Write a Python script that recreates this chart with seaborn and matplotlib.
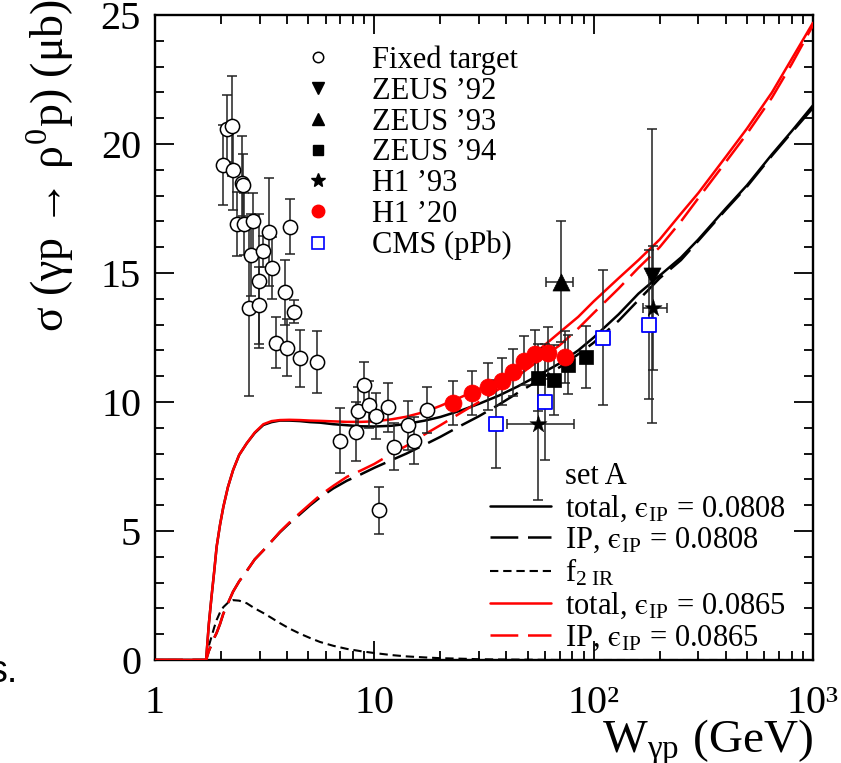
"""Rho photoproduction cross section vs W, model curves and data."""

import matplotlib

matplotlib.use("Agg")

import matplotlib.pyplot as plt
import seaborn as sns
from matplotlib.lines import Line2D
from matplotlib.ticker import LogLocator, MultipleLocator, NullFormatter

# model curves (W in GeV, sigma in microbarn)
W_CURVE = [1.0, 1.69, 1.71, 1.76, 1.81, 1.86, 1.91, 1.98, 2.05, 2.15, 2.27, 2.42,
           2.62, 2.85, 3.12, 3.4, 3.71, 4.1, 4.58, 5.1, 5.65, 6.5, 7.5, 8.7, 10,
           12, 14, 17, 20, 25, 30, 37, 45, 55, 70, 85, 100, 130, 160, 200, 250,
           300, 400, 500, 650, 800, 1000]
TOTAL_A = [0, 0, 0, 1.4, 2.45, 3.4, 4.39, 5.25, 5.94, 6.7, 7.36, 7.95,
           8.4, 8.8, 9.11, 9.22, 9.28, 9.28, 9.26, 9.22, 9.2, 9.14, 9.1, 9.06, 9.05,
           9.08, 9.15, 9.28, 9.42, 9.68, 9.93, 10.25, 10.6, 11.0, 11.5, 12.0, 12.5, 13.4, 14.2, 14.9, 15.6,
           16.3, 17.5, 18.4, 19.6, 20.5, 21.5]
POMERON_A = [0, 0, 0, 0.35, 0.6, 0.85, 1.05, 1.4, 1.8, 2.2, 2.65, 3.05,
             3.45, 3.9, 4.25, 4.6, 4.95, 5.3, 5.65, 6.0, 6.3, 6.65, 6.95, 7.2, 7.45,
             7.75, 8.0, 8.35, 8.65, 9.1, 9.45, 9.9, 10.35, 10.8, 11.35, 11.85, 12.3, 13.15, 13.95, 14.8, 15.5,
             16.25, 17.45, 18.35, 19.55, 20.45, 21.4]
REGGEON = [0, 0, 0, 0.55, 0.9, 1.25, 1.55, 1.85, 2.05, 2.22, 2.32, 2.3,
           2.2, 2.0, 1.82, 1.63, 1.43, 1.22, 1.02, 0.85, 0.7, 0.55, 0.43, 0.34, 0.27,
           0.19, 0.14, 0.1, 0.07, 0.05, 0.03, 0.02, 0.015, 0.01, 0, 0, 0, 0, 0, 0, 0,
           0, 0, 0, 0, 0, 0]
TOTAL_B = [0, 0, 0, 1.4, 2.45, 3.4, 4.39, 5.25, 5.94, 6.7, 7.36, 7.95,
           8.4, 8.82, 9.14, 9.26, 9.3, 9.31, 9.3, 9.28, 9.27, 9.25, 9.23, 9.23, 9.25,
           9.33, 9.43, 9.62, 9.85, 10.2, 10.5, 10.9, 11.35, 11.95, 12.7, 13.3, 13.9, 14.8, 15.5, 16.3, 17.3,
           18.1, 19.5, 20.6, 22.0, 23.3, 24.7]
POMERON_B = [0, 0, 0, 0.35, 0.6, 0.85, 1.05, 1.4, 1.8, 2.2, 2.65, 3.05,
             3.45, 3.9, 4.25, 4.6, 4.97, 5.33, 5.7, 6.05, 6.38, 6.75, 7.1, 7.35, 7.6,
             8.0, 8.3, 8.75, 9.1, 9.6, 10.0, 10.5, 11.0, 11.55, 12.2, 12.85, 13.45, 14.4, 15.2, 16.0, 17.0,
             17.9, 19.3, 20.4, 21.8, 23.1, 24.6]

# fixed target data
FT_W = [2.05, 2.14, 2.24, 2.27, 2.49, 2.51, 2.36, 2.55, 2.81, 2.73, 2.69, 2.99,
        2.99, 3.12, 3.30, 3.40, 3.90, 4.13, 4.30, 3.56, 4.01, 4.58, 5.46,
        6.97, 8.25, 8.45, 9.0, 9.48, 10.2, 11.6, 12.3, 14.3, 15.1, 17.3, 10.5]
FT_S = [19.2, 20.6, 20.7, 19.0, 18.5, 18.4, 16.9, 16.9, 17.0, 15.7, 13.65, 14.7,
        13.75, 15.85, 16.6, 15.2, 14.25, 16.8, 13.5, 12.3, 12.1, 11.7, 11.55,
        8.5, 8.85, 9.65, 10.65, 9.9, 9.45, 9.8, 8.27, 9.1, 8.5, 9.7, 5.8]
FT_ERR = [1.55, 1.3, 1.95, 1.55, 1.83, 1.2, 1.23, 1.2, 1.1, 1.6, 3.4, 2.6,
          1.5, 0.6, 2.1, 1.2, 1.25, 1.05, 0.45, 1.0, 1.1, 1.1, 1.2,
          1.25, 1.15, 0.95, 0.9, 0.9, 0.9, 0.95, 0.9, 0.95, 0.9, 0.9, 0.9]

ZEUS92_W = [184]
ZEUS92_S = [14.9]
ZEUS92_ERR = [5.7]

ZEUS93_W = [70.9]
ZEUS93_S = [14.67]
ZEUS93_ERR = [2.35]
ZEUS93_XERR = [[10], [10]]

ZEUS94_W = [56, 66, 76.5, 91.8]
ZEUS94_S = [10.95, 10.85, 11.45, 11.75]
ZEUS94_ERR = [1.3, 1.35, 1.15, 1.2]

H193_W = [56, 187]
H193_S = [9.15, 13.65]
H193_ERR = [2.95, 2.4]
H193_XERR = [[15.7, 20], [25, 28]]

H120_W = [22.9, 27.8, 33.0, 38.1, 43.1, 48.3, 53.9, 62.0, 74.0]
H120_S = [9.95, 10.35, 10.6, 10.8, 11.15, 11.6, 11.85, 11.9, 11.75]
H120_ERR = [0.85, 0.85, 0.9, 0.9, 0.9, 0.95, 0.95, 1.0, 1.0]

CMS_W = [36, 60, 110, 179]
CMS_S = [9.15, 10.0, 12.5, 13.0]
CMS_ERR = [1.7, 2.25, 2.6, 2.9]

MARKER_LABELS = ["Fixed target", "ZEUS \u201992", "ZEUS \u201993", "ZEUS \u201994",
                 "H1 \u201993", "H1 \u201920", "CMS (pPb)"]
CURVE_LABELS = ["set A",
                "total, $\\mathrm{\u03f5}_{\\mathregular{IP}}$ = 0.0808",
                "IP, $\\mathrm{\u03f5}_{\\mathregular{IP}}$ = 0.0808",
                r"f$_{\mathregular{2\ IR}}$",
                "total, $\\mathrm{\u03f5}_{\\mathregular{IP}}$ = 0.0865",
                "IP, $\\mathrm{\u03f5}_{\\mathregular{IP}}$ = 0.0865"]

X_TICKS = [1, 10, 100, 1000]
X_TICK_LABELS = ["1", "10", "10\u00b2", "10\u00b3"]

LONG_DASH = (0, (20, 7))
SHORT_DASH = (0, (6, 3.5))
RED = "#ff0000"
BLUE = "#0000ff"

sns.set_theme(style="ticks")
plt.rcParams.update({
    "font.family": ["Liberation Serif", "DejaVu Serif"],
    "mathtext.fontset": "stix",
    "lines.scale_dashes": False,
    "axes.edgecolor": "black",
    "axes.labelcolor": "black",
    "text.color": "black",
    "xtick.color": "black",
    "ytick.color": "black",
    "axes.linewidth": 1.7,
})

fig = plt.figure(figsize=(8.41, 7.63), dpi=100)
ax = fig.add_axes([0.1843, 0.135, 0.7824, 0.8453])
ax.set_xscale("log")

# model curves
curve_specs = [
    (TOTAL_A, "black", "-", 1.8),
    (POMERON_A, "black", LONG_DASH, 1.8),
    (REGGEON, "black", SHORT_DASH, 1.5),
    (TOTAL_B, RED, "-", 1.8),
    (POMERON_B, RED, LONG_DASH, 1.8),
]
for values, color, style, width in curve_specs:
    sns.lineplot(x=W_CURVE, y=values, ax=ax, color=color, linestyle=style,
                 linewidth=width, estimator=None, sort=False, zorder=3)

# error bars
bar_kw = dict(fmt="none", ecolor="#222222", elinewidth=1.1, capsize=3.5, capthick=1.1, zorder=4)
ax.errorbar(FT_W, FT_S, yerr=FT_ERR, **bar_kw)
ax.errorbar(ZEUS92_W, ZEUS92_S, yerr=ZEUS92_ERR, **bar_kw)
ax.errorbar(ZEUS93_W, ZEUS93_S, yerr=ZEUS93_ERR, xerr=ZEUS93_XERR, **bar_kw)
ax.errorbar(ZEUS94_W, ZEUS94_S, yerr=ZEUS94_ERR, **bar_kw)
ax.errorbar(H193_W, H193_S, yerr=H193_ERR, xerr=H193_XERR, **bar_kw)
ax.errorbar(H120_W, H120_S, yerr=H120_ERR, **bar_kw)
ax.errorbar(CMS_W, CMS_S, yerr=CMS_ERR, **bar_kw)

# markers
sns.scatterplot(x=FT_W, y=FT_S, ax=ax, marker="o", s=105, facecolor="white",
                edgecolor="black", linewidth=1.1, zorder=5)
sns.scatterplot(x=ZEUS92_W, y=ZEUS92_S, ax=ax, marker="v", s=150, color="black",
                edgecolor="black", linewidth=0.5, zorder=5)
sns.scatterplot(x=ZEUS93_W, y=ZEUS93_S, ax=ax, marker="^", s=150, color="black",
                edgecolor="black", linewidth=0.5, zorder=5)
sns.scatterplot(x=ZEUS94_W, y=ZEUS94_S, ax=ax, marker="s", s=95, color="black",
                edgecolor="black", linewidth=0.5, zorder=5)
sns.scatterplot(x=H193_W, y=H193_S, ax=ax, marker="*", s=170, color="black",
                edgecolor="black", linewidth=0.3, zorder=5)
sns.scatterplot(x=H120_W, y=H120_S, ax=ax, marker="o", s=150, color=RED,
                edgecolor=RED, linewidth=0.5, zorder=5)
sns.scatterplot(x=CMS_W, y=CMS_S, ax=ax, marker="s", s=95, facecolor="white",
                edgecolor=BLUE, linewidth=1.3, zorder=5)

ax.set_xlim(1, 1000)
ax.set_ylim(0, 25)
ax.set_xticks(X_TICKS, labels=X_TICK_LABELS)
ax.xaxis.set_minor_locator(LogLocator(base=10, subs=range(2, 10)))
ax.xaxis.set_minor_formatter(NullFormatter())
ax.set_yticks(range(0, 26, 5))
ax.yaxis.set_minor_locator(MultipleLocator(1))
ax.tick_params(which="major", direction="in", length=14, width=1.3, top=True,
               right=True, labelsize=29)
ax.tick_params(which="minor", direction="in", length=6.5, width=1.3, top=True, right=True)
ax.tick_params(axis="x", which="major", pad=18)
ax.tick_params(axis="y", which="major", pad=10)
for spine in ax.spines.values():
    spine.set_visible(True)
    spine.set_zorder(2.5)

ax.set_xlabel(r"W$_{\mathregular{\gamma p}}$ (GeV)", fontsize=34, ha="right", va="baseline")
ax.xaxis.set_label_coords(1.0, -0.143)
fig.text(50 / 841, 1 - 332 / 763, "\u03c3 (\u03b3p \u2192 \u03c1$^{\\mathregular{0}}$p) (\u03bcb)",
         rotation=90, ha="center", va="bottom", fontsize=33)

# marker legend
marker_handles = [
    Line2D([], [], ls="none", marker="o", mfc="white", mec="black", mew=1.1, ms=7.5),
    Line2D([], [], ls="none", marker="v", color="black", ms=9),
    Line2D([], [], ls="none", marker="^", color="black", ms=9),
    Line2D([], [], ls="none", marker="s", color="black", ms=7.5),
    Line2D([], [], ls="none", marker="*", color="black", ms=10),
    Line2D([], [], ls="none", marker="o", color=RED, ms=9),
    Line2D([], [], ls="none", marker="s", mfc="white", mec=BLUE, mew=1.2, ms=8),
]
leg1 = ax.legend(marker_handles, MARKER_LABELS, loc="upper left", bbox_to_anchor=(0.219, 0.953),
                 frameon=False, fontsize=22, handlelength=1.25, handletextpad=1.15,
                 labelspacing=0.06, borderpad=0, borderaxespad=0)
ax.add_artist(leg1)

curve_handles = [
    Line2D([], [], ls="none"),
    Line2D([], [], color="black", lw=1.8),
    Line2D([], [], color="black", lw=1.8, ls=LONG_DASH),
    Line2D([], [], color="black", lw=1.5, ls=SHORT_DASH),
    Line2D([], [], color=RED, lw=1.8),
    Line2D([], [], color=RED, lw=1.8, ls=LONG_DASH),
]
ax.legend(curve_handles, CURVE_LABELS, loc="upper left", bbox_to_anchor=(0.509, 0.3065),
          frameon=False, fontsize=22, handlelength=2.0, handletextpad=0.45,
          labelspacing=0.07, borderpad=0, borderaxespad=0)

# stray text from the surrounding page
fig.text(18 / 841, 1 - 682 / 763, "s.", ha="right", va="baseline", fontsize=27,
         family="Liberation Sans")

fig.savefig("out.png", dpi=100)
